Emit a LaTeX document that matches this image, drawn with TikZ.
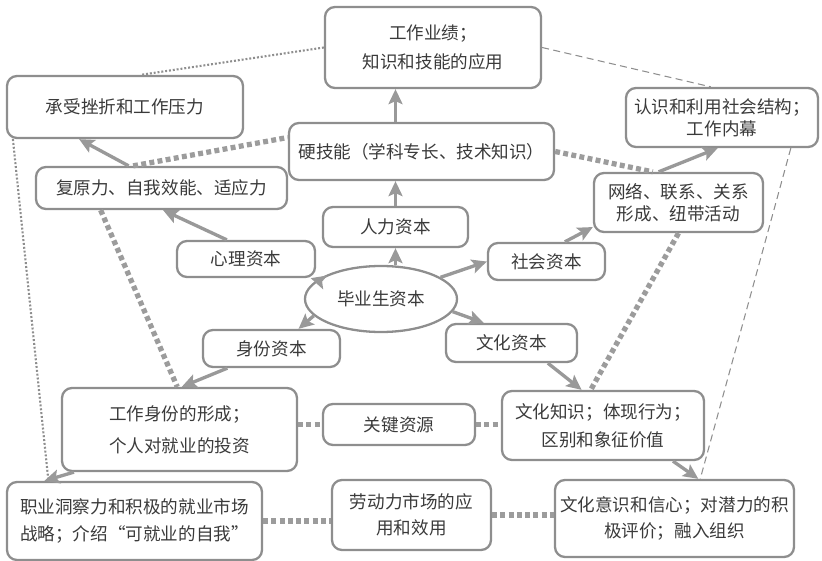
\documentclass[tikz,border=0pt]{standalone}
\usepackage{fontspec}
\setmainfont{Noto Sans CJK SC}
\usetikzlibrary{shapes.geometric,arrows.meta}
\definecolor{linegray}{HTML}{8E8E8E}
\definecolor{arrowgray}{HTML}{999999}
\definecolor{dotgray}{HTML}{9C9C9C}
\definecolor{textgray}{HTML}{3A3A3A}
\begin{document}
\begin{tikzpicture}[x=0.2mm, y=-0.2mm,
    box/.style={draw=linegray, line width=1.3pt, rounded corners=2mm, text=textgray,
      align=center, inner sep=0pt, font=\fontsize{10pt}{12pt}\selectfont},
    core/.style={box, ellipse, rounded corners=0pt},
    flow/.style={draw=arrowgray, line width=1.9pt, -{Stealth[length=3mm,width=2.8mm,inset=0.6mm]}},
    heavydots/.style={draw=dotgray, line width=3pt, dash pattern=on 2.8pt off 1.9pt},
    lightdots/.style={draw=linegray, line width=1.2pt, dash pattern=on 1.1pt off 1.1pt},
    lightdash/.style={draw=linegray, line width=0.6pt, dash pattern=on 4pt off 2.5pt}]
  \useasboundingbox (0,0) rectangle (822,561);
  \path
    (433,47.5) node[box, minimum width=43.2mm, minimum height=16.2mm] (perf) {工作业绩；\\[4.4pt]知识和技能的应用}
    (125,107) node[box, minimum width=47.2mm, minimum height=12.4mm] (frust) {承受挫折和工作压力}
    (421.5,151.5) node[box, minimum width=53mm, minimum height=11.4mm] (hard) {硬技能（学科专长、技术知识）}
    (161.5,188) node[box, minimum width=50.2mm, minimum height=8.4mm] (resil) {复原力、自我效能、适应力}
    (395.5,227) node[box, minimum width=29mm, minimum height=8mm] (human) {人力资本}
    (246,259) node[box, minimum width=27.6mm, minimum height=7.2mm] (psych) {心理资本}
    (546.5,261.5) node[box, minimum width=23.4mm, minimum height=7.4mm] (social) {社会资本}
    (381,299) node[core, minimum width=30.4mm, minimum height=13.2mm] (grad) {毕业生资本}
    (271.5,348.5) node[box, minimum width=27.4mm, minimum height=7.4mm] (ident) {身份资本}
    (511.5,343) node[box, minimum width=26.2mm, minimum height=7.6mm] (cult) {文化资本}
    (722,117.5) node[box, minimum width=38.4mm, minimum height=11.8mm] (struct) {认识和利用社会结构；\\[0.5pt]工作内幕}
    (678.5,202.5) node[box, minimum width=33.8mm, minimum height=11.8mm] (netw) {网络、联系、关系\\[0.5pt]形成、纽带活动}
    (179.5,429.5) node[box, minimum width=47mm, minimum height=16.6mm] (form) {工作身份的形成；\\[6pt]个人对就业的投资}
    (399,424.5) node[box, minimum width=30.4mm, minimum height=8.2mm] (key) {关键资源}
    (603,425.5) node[box, minimum width=40.4mm, minimum height=13.8mm] (know) {文化知识；体现行为；\\[4pt]区别和象征价值}
    (134.5,521) node[box, minimum width=51mm, minimum height=15.6mm] (insight) {职业洞察力和积极的就业市场\\[3.3pt]战略；介绍“可就业的自我”}
    (411.5,515) node[box, minimum width=31.8mm, minimum height=14mm] (labour) {劳动力市场的应\\[2.7pt]用和效用}
    (674.5,518.5) node[box, minimum width=47.8mm, minimum height=15.4mm] (aware) {文化意识和信心；对潜力的积\\[3pt]极评价；融入组织};
  % links between the outcomes
  \begin{scope}[lightdots]
    \draw (perf.west) to (frust.64);
    \draw (frust.196) to (insight.155);
  \end{scope}
  \begin{scope}[lightdash]
    \draw (perf.east) to (struct.110);
    \draw (struct.-24) to (aware.57);
  \end{scope}
  \begin{scope}[heavydots]
    \draw (resil.142) to (hard.174);
    \draw (hard.east) to (netw.130);
    \draw (resil.200) to (form.93);
    \draw (netw.south) to (know.109);
    \draw (key.west -| form.east) to (key.west);
    \draw (key.east) to (key.east -| know.west);
    \draw (insight.east) to (insight.east -| labour.west);
    \draw (labour.east) to (labour.east -| aware.west);
  \end{scope}
  % capitals and what they lead to
  \begin{scope}[flow]
    \draw (grad.north -| human.south) to (human.south);
    \draw (human.north) to (human.north |- hard.south);
    \draw (human.north |- hard.north) to (human.north |- perf.south);
    \draw (grad) to (psych);
    \draw (psych.135) to (resil.-86);
    \draw (resil.146) to (frust.215);
    \draw (grad.20) to (social.west);
    \draw (social.47) to (netw.196);
    \draw (netw.123) to (struct.-98);
    \draw (grad.194) to (ident.36);
    \draw (ident.204) to (form.87);
    \draw (form.202) to (insight.156);
    \draw (grad.-10) to (cult.144);
    \draw (cult.-29) to (know.121);
    \draw (know.-27) to (aware.59);
  \end{scope}
\end{tikzpicture}
\end{document}
